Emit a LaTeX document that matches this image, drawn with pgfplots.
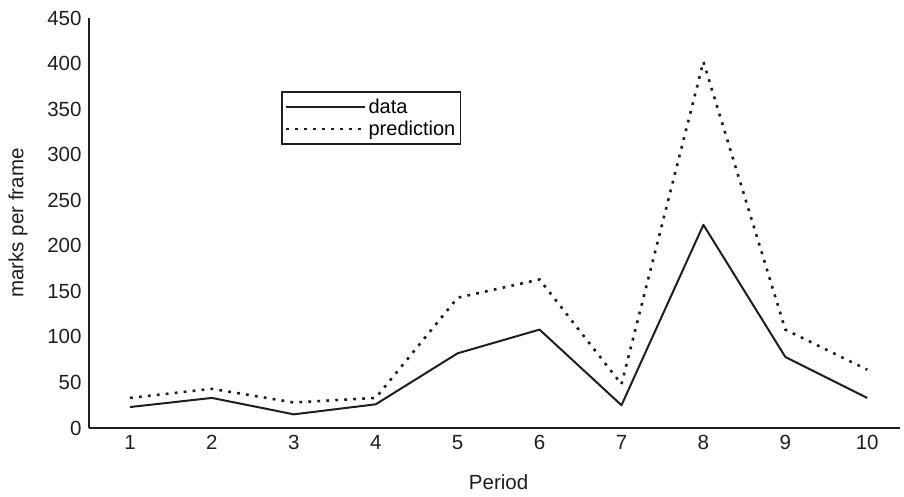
\documentclass[border=0pt]{standalone}
\usepackage{fontspec}
\setmainfont{Liberation Sans}
\usepackage{pgfplots}
\pgfplotsset{compat=1.18}
\definecolor{Ink}{HTML}{1E1E1E}

\begin{document}
\begin{tikzpicture}
  \begin{axis}[
    scale only axis,
    width=811pt,height=410pt,
    xmin=0.5,xmax=10.4,
    ymin=0,ymax=450,
    xtick={1,...,10},
    ytick={0,50,...,450},
    axis x line*=bottom,
    axis y line*=left,
    axis line style={Ink,line width=1.6pt,-},
    major tick length=0pt,
    tick label style={font=\fontsize{20.5}{24}\selectfont,color=Ink},
    /pgf/number format/assume math mode=true,
    xticklabel style={yshift=-4pt},
    yticklabel style={xshift=-4pt},
    xlabel={Period},
    ylabel={marks per frame},
    label style={font=\fontsize{20.5}{24}\selectfont,color=Ink},
    xlabel style={at={(axis description cs:0.505,0)},anchor=center,yshift=-54pt},
    ylabel style={at={(axis description cs:-0.0875,0.5)},anchor=center},
    legend style={
      at={(axis description cs:0.237,0.821)},anchor=north west,
      draw=Ink,line width=1.6pt,
      font=\fontsize{20}{24}\selectfont,
      inner xsep=3pt,inner ysep=5pt,
      row sep=2pt,
      cells={anchor=west}
    },
    legend image code/.code={
      \draw[#1] (0pt,0pt) -- (79pt,0pt);
    },
    clip=false
  ]
    \addplot[Ink,line width=2pt,line join=round] coordinates {
      (1,23)(2,33)(3,15)(4,26)(5,82)(6,108)(7,25)(8,223)(9,78)(10,33)
    };
    \addlegendentry{data}
    \addplot[Ink,line width=2.6pt,dash pattern=on 2.8pt off 6.2pt] coordinates {
      (1,33)(2,43)(3,28)(4,33)(5,143)(6,163)(7,48)(8,402)(9,108)(10,64)
    };
    \addlegendentry{prediction}
  \end{axis}
  \pgfresetboundingbox
  \path (-89pt,-69pt) rectangle (815pt,428pt);
\end{tikzpicture}
\end{document}
